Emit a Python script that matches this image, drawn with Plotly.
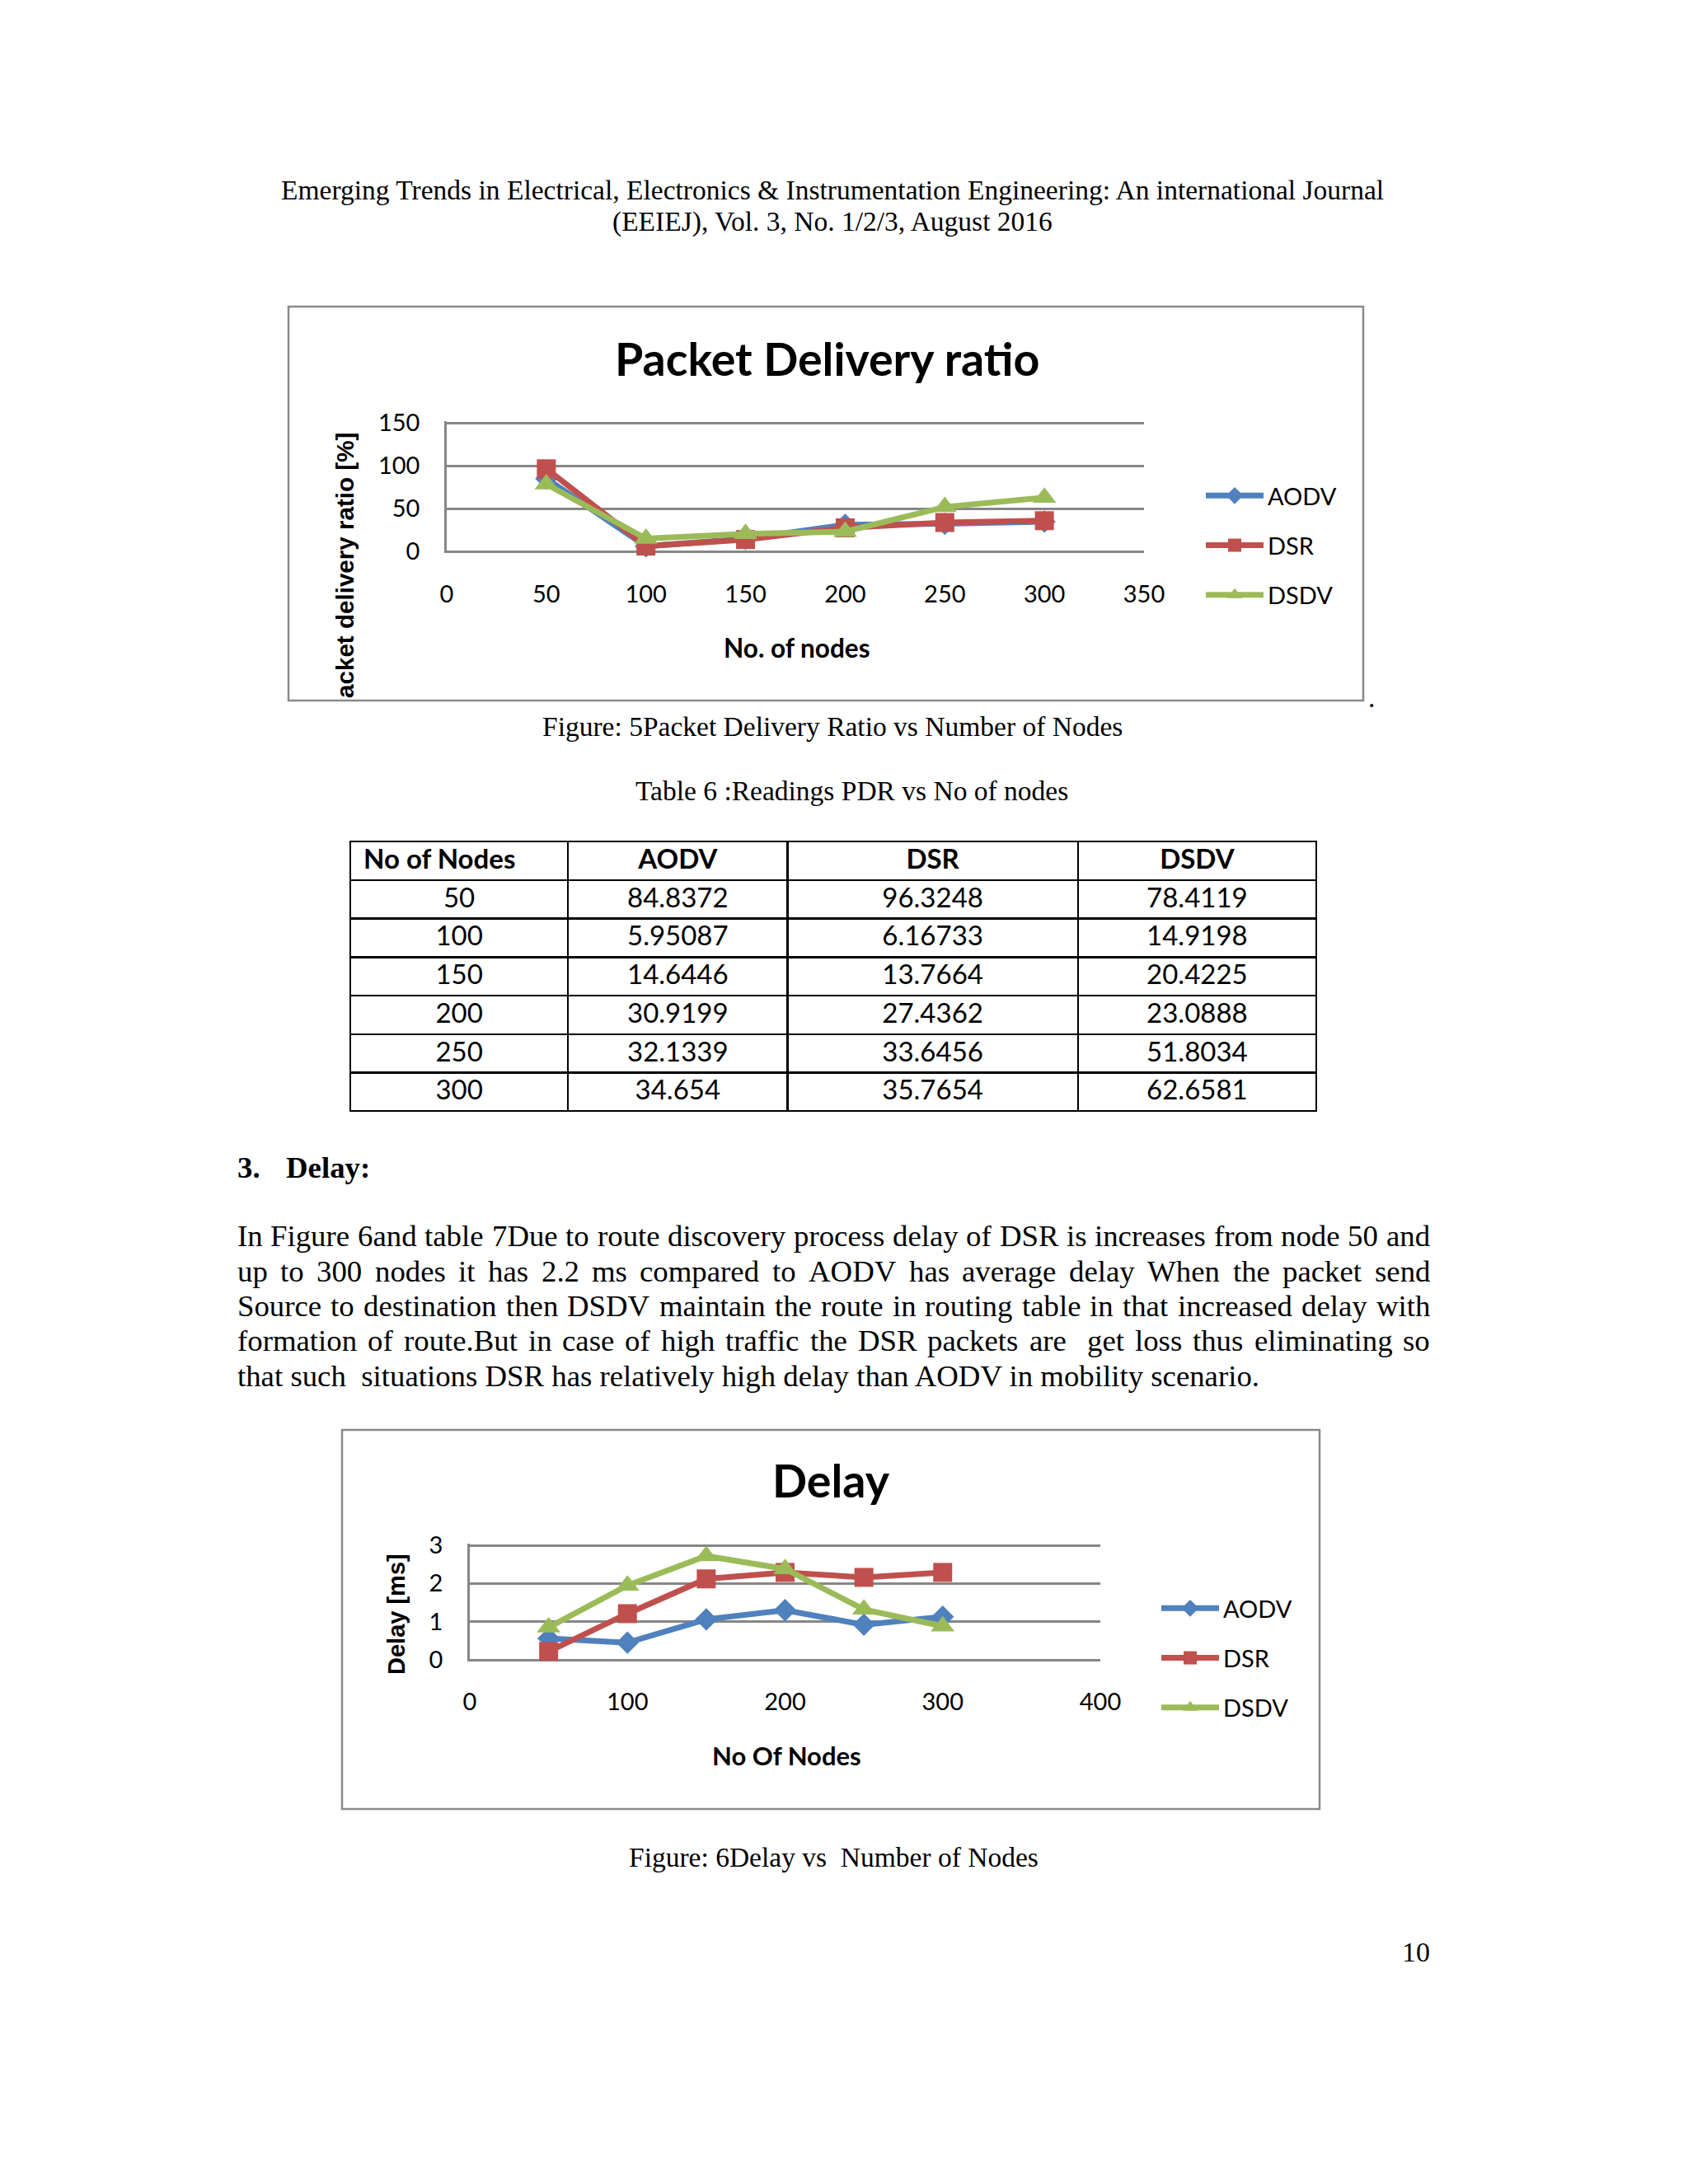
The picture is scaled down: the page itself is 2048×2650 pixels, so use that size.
import plotly.graph_objects as go

# ---------------- data ----------------
nodes = [50, 100, 150, 200, 250, 300]
protocols = ["AODV", "DSR", "DSDV"]
pdr_aodv = [84.8372, 5.95087, 14.6446, 30.9199, 32.1339, 34.654]
pdr_dsr = [96.3248, 6.16733, 13.7664, 27.4362, 33.6456, 35.7654]
pdr_dsdv = [78.4119, 14.9198, 20.4225, 23.0888, 51.8034, 62.6581]
delay_aodv = [0.56, 0.45, 1.06, 1.30, 0.92, 1.13]
delay_dsr = [0.22, 1.21, 2.12, 2.29, 2.16, 2.29]
delay_dsdv = [0.85, 1.95, 2.72, 2.38, 1.32, 0.88]
pdr_xticks = [0, 50, 100, 150, 200, 250, 300, 350]
pdr_yticks = [0, 50, 100, 150]
delay_xticks = [0, 100, 200, 300, 400]
delay_yticks = [0, 1, 2, 3]
table_header = ["No of Nodes", "AODV", "DSR", "DSDV"]

header_lines = [
    "Emerging Trends in Electrical, Electronics & Instrumentation Engineering: An international Journal",
    "(EEIEJ), Vol. 3, No. 1/2/3, August 2016",
]
paragraph = [
    "In Figure 6and table 7Due to route discovery process delay of DSR is increases from node 50 and",
    "up to 300 nodes it has 2.2 ms compared to AODV has average delay When the packet send",
    "Source to destination then DSDV maintain the route in routing table in that increased delay with",
    "formation of route.But in case of high traffic the DSR packets are  get loss thus eliminating so",
    "that such  situations DSR has relatively high delay than AODV in mobility scenario.",
]

# ---------------- page geometry ----------------
W, H = 2030, 2600
OFF = 8  # default body margin of the html page


def px(x):
    return (x - OFF) / W


def py(y):
    return 1 - (y - OFF) / H


def vaxis(v0, v1, p0, p1, eps_px=2.0):
    """value v0 at page pixel p0 (bottom), v1 at p1 (top); pad so edge gridlines draw"""
    k = (p0 - p1) / (v1 - v0)
    e = eps_px / k
    return [v0 - e, v1 + e], [py(p0 + eps_px), py(p1 - eps_px)]


COLORS = ["#4F81BD", "#C0504D", "#9BBB59"]
SYMBOLS = ["diamond", "square", "triangle-up"]
MSIZES = [21, 23, 25]
LW = 7
GRID = "#868686"
CHART_FONT = "Lato"
SERIF = "Liberation Serif"

fig = go.Figure()

# ---------------- chart traces ----------------
for i, (name, vals) in enumerate(zip(protocols, [pdr_aodv, pdr_dsr, pdr_dsdv])):
    fig.add_trace(go.Scatter(
        x=nodes, y=vals, name=name, mode="lines+markers",
        line=dict(color=COLORS[i], width=LW),
        marker=dict(symbol=SYMBOLS[i], size=MSIZES[i], color=COLORS[i]),
        xaxis="x", yaxis="y", legend="legend", legendgroup="p" + name,
        cliponaxis=False, hoverinfo="skip"))

for i, (name, vals) in enumerate(zip(protocols, [delay_aodv, delay_dsr, delay_dsdv])):
    fig.add_trace(go.Scatter(
        x=nodes, y=vals, name=name, mode="lines+markers",
        line=dict(color=COLORS[i], width=LW),
        marker=dict(symbol=SYMBOLS[i], size=MSIZES[i], color=COLORS[i]),
        xaxis="x2", yaxis="y2", legend="legend2", legendgroup="d" + name,
        cliponaxis=False, hoverinfo="skip"))

# ---------------- table ----------------
cols = [[str(n) for n in nodes], [str(v) for v in pdr_aodv],
        [str(v) for v in pdr_dsr], [str(v) for v in pdr_dsdv]]
hdr = ["\u00a0" + table_header[0]] + table_header[1:]
fig.add_trace(go.Table(
    domain=dict(x=[px(425), px(1597)], y=[py(1420), py(1021)]),
    columnwidth=[264, 266, 352, 289],
    header=dict(values=hdr,
                align=["left", "center", "center", "center"],
                height=47, fill_color="white",
                line=dict(color="black", width=2.5),
                font=dict(family=CHART_FONT, size=33, color="black", weight="bold")),
    cells=dict(values=cols, align="center", height=46.7, fill_color="white",
               line=dict(color="black", width=2.5),
               font=dict(family=CHART_FONT, size=33, color="black")),
))

tickfont = dict(family=CHART_FONT, size=29, color="black")
axis_common = dict(showgrid=False, zeroline=False, ticks="", fixedrange=True)

y1_range, y1_dom = vaxis(0, 150, 669, 513)
y2_range, y2_dom = vaxis(0, 3, 2014, 1875)

layout = dict(
    width=W, height=H, autosize=False,
    margin=dict(l=0, r=0, t=0, b=0, pad=0, autoexpand=False),
    paper_bgcolor="white", plot_bgcolor="rgba(0,0,0,0)",
    xaxis=dict(domain=[px(542), px(1388)], range=[0, 350], tickvals=pdr_xticks,
               anchor="y", tickfont=tickfont, ticklabelstandoff=30, showline=False,
               automargin=False, **axis_common),
    yaxis=dict(domain=y1_dom, range=y1_range, tickvals=pdr_yticks,
               anchor="x", tickfont=tickfont, ticklabelstandoff=24,
               showgrid=True, gridcolor=GRID, gridwidth=2.5,
               showline=True, linecolor=GRID, linewidth=2.5, automargin=False,
               zeroline=False, ticks="", fixedrange=True),
    xaxis2=dict(domain=[px(570), px(1335)], range=[0, 400], tickvals=delay_xticks,
                anchor="y2", tickfont=tickfont, ticklabelstandoff=29, showline=False,
                automargin=False, **axis_common),
    yaxis2=dict(domain=y2_dom, range=y2_range, tickvals=delay_yticks,
                anchor="x2", tickfont=tickfont, ticklabelstandoff=24,
                showgrid=True, gridcolor=GRID, gridwidth=2.5,
                showline=True, linecolor=GRID, linewidth=2.5, automargin=False,
                zeroline=False, ticks="", fixedrange=True),
    legend=dict(x=px(1458), y=py(576), xanchor="left", yanchor="top",
                font=dict(family=CHART_FONT, size=29, color="black"),
                itemwidth=70, tracegroupgap=19.5, bgcolor="rgba(0,0,0,0)",
                borderwidth=0, itemclick=False, itemdoubleclick=False),
    legend2=dict(x=px(1404), y=py(1926), xanchor="left", yanchor="top",
                 font=dict(family=CHART_FONT, size=29, color="black"),
                 itemwidth=70, tracegroupgap=19.5, bgcolor="rgba(0,0,0,0)",
                 borderwidth=0, itemclick=False, itemdoubleclick=False),
    showlegend=True,
)
fig.update_layout(**layout)

# ---------------- chart frames ----------------
for (x0, y0, x1, y1) in [(350, 372, 1654, 850), (415, 1735, 1601, 2195)]:
    fig.add_shape(type="rect", xref="paper", yref="paper",
                  x0=px(x0), x1=px(x1), y0=py(y1), y1=py(y0),
                  line=dict(color="#8A8A8A", width=2.5), fillcolor="rgba(0,0,0,0)",
                  layer="below")

annotations = []


def add_text(x, y, s, size, family=SERIF, xanchor="center", angle=0, color="black"):
    annotations.append(dict(
        x=px(x), y=py(y), xref="paper", yref="paper", text=s, showarrow=False,
        xanchor=xanchor, yanchor="middle", textangle=angle,
        font=dict(family=family, size=size, color=color),
        borderpad=0, borderwidth=0))


# header
add_text(1010, 230, header_lines[0], 33.5)
add_text(1010, 269, header_lines[1], 33.5)

# chart 1 texts
add_text(1003, 434, "<b>Packet Delivery ratio</b>", 55.5, CHART_FONT)
add_text(966, 786, "<b>No. of nodes</b>", 31.5, CHART_FONT)
add_text(418, 686, "<b>acket delivery ratio [%]</b>", 29.6, "Liberation Sans", angle=-90)
add_text(1664, 846, ".", 33.5)

# captions
add_text(1010, 881, "Figure: 5Packet Delivery Ratio vs Number of Nodes", 33.5)
add_text(1033, 959, "Table 6 :Readings PDR vs No of nodes", 33.5)

# section heading
add_text(288, 1416, "<b>3.</b>", 36.8, xanchor="left")
add_text(347, 1416, "<b>Delay:</b>", 36.8, xanchor="left")

# justified paragraph (Times metrics)
TNR = {" ": 250, ".": 250, ",": 250, ":": 278, "(": 333, ")": 333, "/": 278, "&": 778,
       "%": 833, "[": 333, "]": 333, "-": 333}
for d in "0123456789":
    TNR[d] = 500
TNR.update(dict(zip("ABCDEFGHIJKLMNOPQRSTUVWXYZ",
                    [722, 667, 667, 722, 611, 556, 722, 722, 333, 389, 722, 611, 889,
                     722, 722, 556, 722, 667, 556, 611, 722, 722, 944, 722, 722, 611])))
TNR.update(dict(zip("abcdefghijklmnopqrstuvwxyz",
                    [444, 500, 444, 500, 444, 333, 500, 500, 278, 278, 500, 278, 778,
                     500, 500, 500, 500, 333, 389, 278, 500, 500, 722, 500, 500, 444])))
BODY = 36.8


def tw(s, size):
    return sum(TNR.get(c, 500) for c in s) / 1000.0 * size


LEFT, RIGHT = 288, 1735
line_y = [1499, 1542, 1584, 1626, 1669]
for li, (line, yy) in enumerate(zip(paragraph, line_y)):
    if li == len(paragraph) - 1:
        add_text(LEFT, yy, line, BODY, xanchor="left")
        continue
    tokens = line.split(" ")
    words = []
    gaps = []
    for t in tokens:
        if t == "":
            gaps[-1] += 1
        else:
            words.append(t)
            gaps.append(1)
    gaps[-1] = 0
    nat = sum(tw(w, BODY) for w in words) + sum(gaps) * tw(" ", BODY)
    extra = (RIGHT - LEFT - nat) / max(sum(gaps), 1)
    xx = LEFT
    for w, g in zip(words, gaps):
        add_text(xx, yy, w, BODY, xanchor="left")
        xx += tw(w, BODY) + g * (tw(" ", BODY) + extra)

# chart 2 texts
add_text(1008, 1795, "<b>Delay</b>", 55.5, CHART_FONT)
add_text(954, 2130, "<b>No Of Nodes</b>", 31, CHART_FONT)
add_text(481, 1959, "<b>Delay [ms]</b>", 29, "Liberation Sans", angle=-90)

add_text(1011, 2253, "Figure: 6Delay vs  Number of Nodes", 33.5)
add_text(1735, 2368, "10", 34, xanchor="right")

fig.update_layout(annotations=annotations)

fig.write_html("out.html")
